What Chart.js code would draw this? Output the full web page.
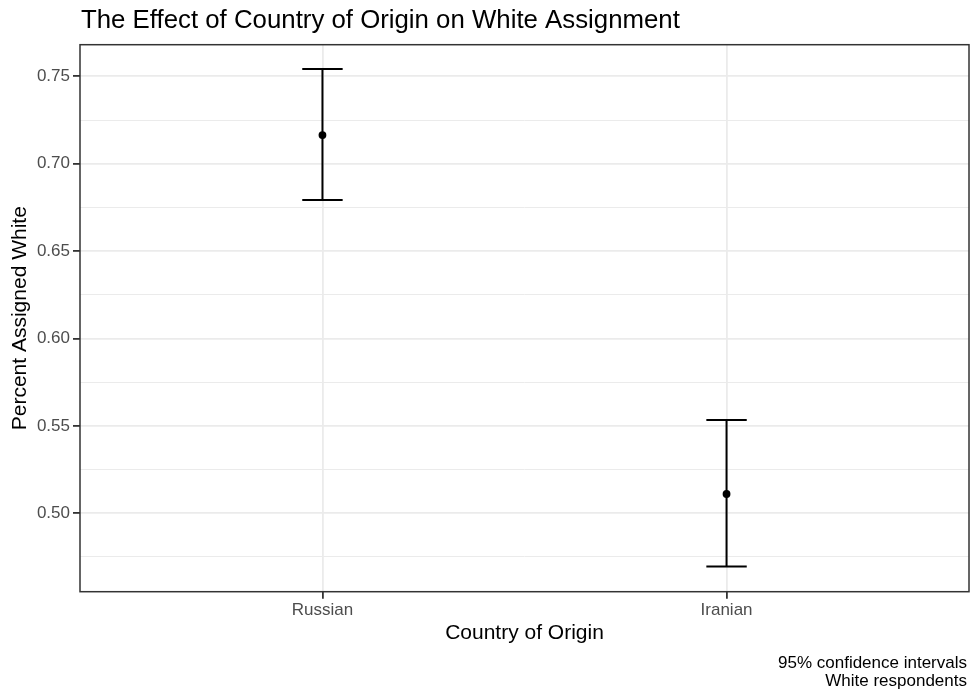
<!DOCTYPE html>
<html>
<head>
<meta charset="utf-8">
<script src="https://cdn.jsdelivr.net/npm/chart.js@4/dist/chart.umd.min.js"></script>
<style>
  html, body { margin: 0; padding: 0; background: #ffffff; }
  #wrap { width: 973px; height: 690px; }
</style>
</head>
<body>
<div id="wrap"><canvas id="c" width="973" height="690"></canvas></div>
<script>
// Estimates of the share assigned "White", with 95% confidence bounds
const categories = ['Russian', 'Iranian'];
const estimate   = [0.7164, 0.5110];
const lower      = [0.6792, 0.4695];
const upper      = [0.7542, 0.5534];

// Axis ticks
const yMajorTicks = [0.50, 0.55, 0.60, 0.65, 0.70, 0.75];
const yMinorTicks = [0.475, 0.525, 0.575, 0.625, 0.675, 0.725];
const xTickPositions = [1, 2];

const titleText = 'The Effect of Country of Origin on White Assignment';
const captionLines = ['95% confidence intervals', 'White respondents'];

const FONT = '"Liberation Sans", Arial, Helvetica, sans-serif';
const capHalf = 0.05;   // half width of the error bar caps, in category units

const isMajor = v => yMajorTicks.some(t => Math.abs(t - v) < 1e-9);

// Build the error bar segments from the arrays above
const segments = [];
categories.forEach((cat, i) => {
  const x = xTickPositions[i];
  segments.push([{ x: x, y: lower[i] }, { x: x, y: upper[i] }]);
  segments.push([{ x: x - capHalf, y: upper[i] }, { x: x + capHalf, y: upper[i] }]);
  segments.push([{ x: x - capHalf, y: lower[i] }, { x: x + capHalf, y: lower[i] }]);
});

const datasets = [{
  label: 'estimate',
  data: categories.map((c, i) => ({ x: xTickPositions[i], y: estimate[i] })),
  pointRadius: 3.9,
  pointBackgroundColor: '#000000',
  pointBorderWidth: 0,
  showLine: false
}].concat(segments.map(seg => ({
  label: 'ci',
  data: seg,
  showLine: true,
  borderColor: '#000000',
  borderWidth: 2,
  pointRadius: 0,
  pointHoverRadius: 0
})));

const decor = {
  id: 'decor',
  afterDatasetsDraw(chart) {
    const { ctx, chartArea: a } = chart;
    ctx.save();
    ctx.strokeStyle = '#333333';
    ctx.lineWidth = 1.5;
    ctx.strokeRect(a.left, a.top, a.right - a.left, a.bottom - a.top);
    ctx.restore();
  },
  afterDraw(chart) {
    const { ctx, chartArea: a } = chart;
    ctx.save();
    ctx.fillStyle = '#000000';
    ctx.textBaseline = 'alphabetic';
    ctx.font = '25.8px ' + FONT;
    ctx.textAlign = 'left';
    ctx.fillText(titleText, a.left + 1, 28);
    ctx.font = '17px ' + FONT;
    ctx.textAlign = 'right';
    captionLines.forEach((line, i) => ctx.fillText(line, 967, 668 + i * 18));
    ctx.restore();
  }
};

new Chart(document.getElementById('c'), {
  type: 'scatter',
  data: { datasets },
  plugins: [decor],
  options: {
    responsive: false,
    animation: false,
    events: [],
    layout: { padding: { top: 44.7, right: 3, left: 0, bottom: 0 } },
    plugins: { legend: { display: false }, title: { display: false }, tooltip: { enabled: false } },
    scales: {
      x: {
        type: 'linear',
        min: 0.4,
        max: 2.6,
        afterBuildTicks(scale) { scale.ticks = xTickPositions.map(v => ({ value: v })); },
        afterFit(scale) { scale.height = 98.3; },
        border: { display: false },
        grid: { color: '#EBEBEB', lineWidth: 1.8, tickColor: '#333333', tickLength: 7 },
        ticks: {
          padding: 1,
          color: '#4D4D4D',
          font: { family: FONT, size: 17 },
          maxRotation: 0,
          callback: v => categories[xTickPositions.indexOf(v)] ?? ''
        },
        title: {
          display: true,
          text: 'Country of Origin',
          color: '#000000',
          font: { family: FONT, size: 21 },
          padding: { top: 0, bottom: 44.4 }
        }
      },
      y: {
        type: 'linear',
        min: 0.4551,
        max: 0.7681,
        afterBuildTicks(scale) {
          scale.ticks = yMinorTicks.concat(yMajorTicks).sort((a, b) => a - b).map(v => ({ value: v }));
        },
        afterFit(scale) { scale.width = 80; },
        border: { display: false },
        grid: {
          color: '#EBEBEB',
          lineWidth: c => (isMajor(c.tick.value) ? 1.8 : 1.0),
          tickColor: c => (isMajor(c.tick.value) ? '#333333' : 'rgba(0,0,0,0)'),
          tickLength: 7
        },
        ticks: {
          padding: 3,
          color: '#4D4D4D',
          font: { family: FONT, size: 17 },
          callback: v => (isMajor(v) ? v.toFixed(2) : '')
        },
        title: {
          display: true,
          text: 'Percent Assigned White',
          color: '#000000',
          font: { family: FONT, size: 21 },
          padding: { top: 7.4, bottom: 0 }
        }
      }
    }
  }
});
</script>
</body>
</html>
